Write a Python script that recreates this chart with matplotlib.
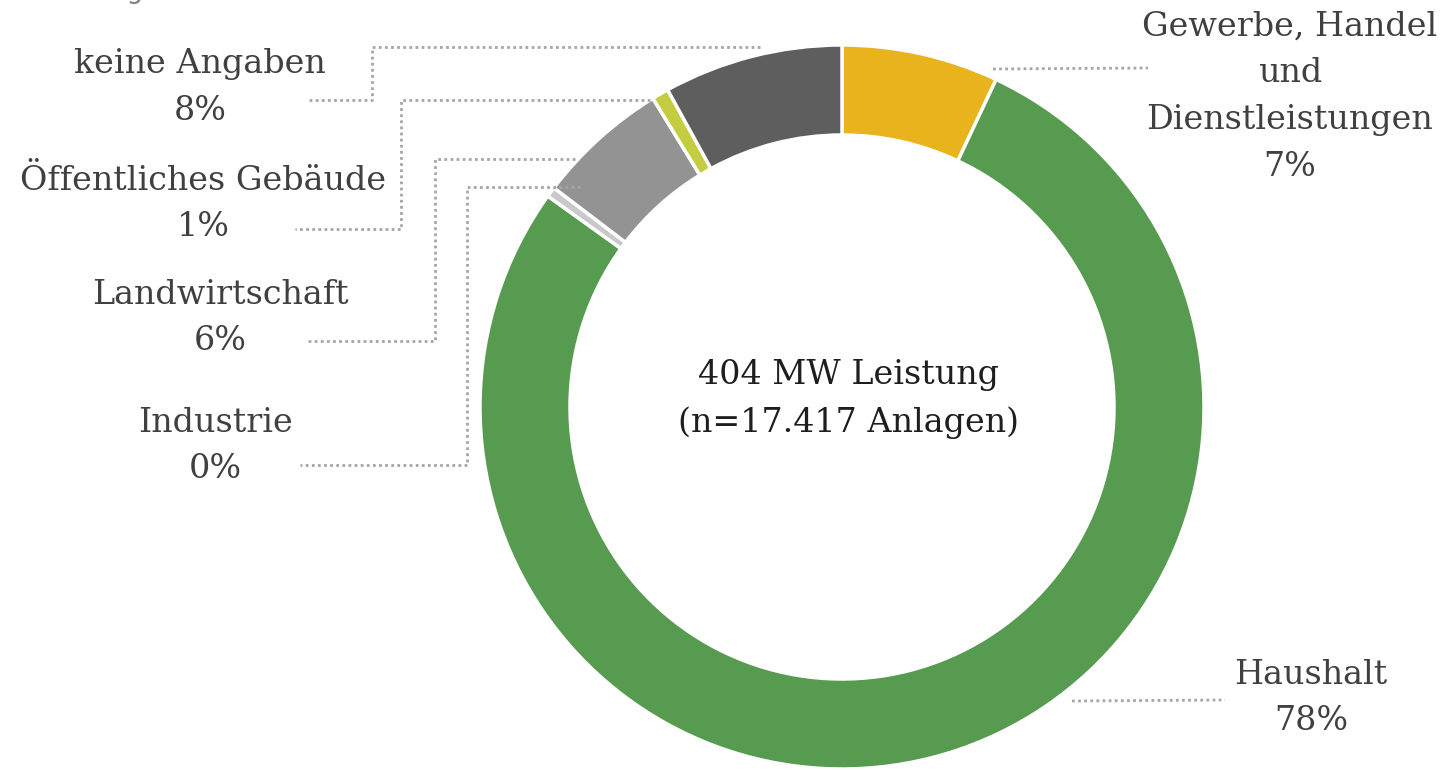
import matplotlib
matplotlib.use("Agg")
import matplotlib.pyplot as plt

categories = ["Gewerbe, Handel\nund\nDienstleistungen", "Haushalt", "Industrie",
              "Landwirtschaft", "Öffentliches Gebäude", "keine Angaben"]
shares = [7.0, 77.9, 0.45, 5.9, 0.75, 8.0]
shown_pct = ["7%", "78%", "0%", "6%", "1%", "8%"]
colors = ["#E8B31C", "#579B50", "#C9C9C9", "#939393", "#C4CD3F", "#5E5E5E"]

W, H = 1445, 770

def py(y):
    # pixel row from top -> data y
    return H - y

fig = plt.figure(figsize=(14.45, 7.7), dpi=100)
ax = fig.add_axes([0, 0, 1, 1])

ax.pie(shares, colors=colors, startangle=90, counterclock=False,
       center=(842, py(407)), radius=362,
       wedgeprops=dict(width=90, edgecolor="white", linewidth=2.5))

ax.set_xlim(0, W)
ax.set_ylim(0, H)
ax.set_aspect("equal")
ax.axis("off")

txt_color = "#404040"
font = "DejaVu Serif"
fs = 24

# leader lines (pixel coords)
leaders = [
    [(993, 69), (1148, 68)],
    [(1072, 701), (1225, 700)],
    [(760, 47), (372, 47), (372, 100), (306, 100)],
    [(650, 100), (401, 100), (401, 229), (295, 229)],
    [(575, 159), (435, 159), (435, 341), (305, 341)],
    [(580, 187), (467, 187), (467, 465), (300, 465)],
]
for pts in leaders:
    xs = [p[0] for p in pts]
    ys = [py(p[1]) for p in pts]
    ax.plot(xs, ys, color="#A6A6A6", linestyle=(0, (1, 1.2)), linewidth=2)

# label positions (center x, block center y)
label_pos = [(1290, 97), (1311, 698), (215, 446), (220, 318), (203, 204), (200, 88)]
for name, pct, (x, y) in zip(categories, shown_pct, label_pos):
    ax.text(x, py(y), name + "\n" + pct, ha="center", va="center",
            fontsize=fs, family=font, color=txt_color, linespacing=1.6)

ax.text(848, py(399), "404 MW Leistung\n(n=17.417 Anlagen)", ha="center",
        va="center", fontsize=fs, family=font, color="#1E1E1E", linespacing=1.6)

# cropped subtitle at the very top
ax.text(-12, py(-2), "2020 bezogen auf Anzahl", ha="left", va="baseline",
        fontsize=19, color="#808080")

fig.savefig("out.png", dpi=100)
